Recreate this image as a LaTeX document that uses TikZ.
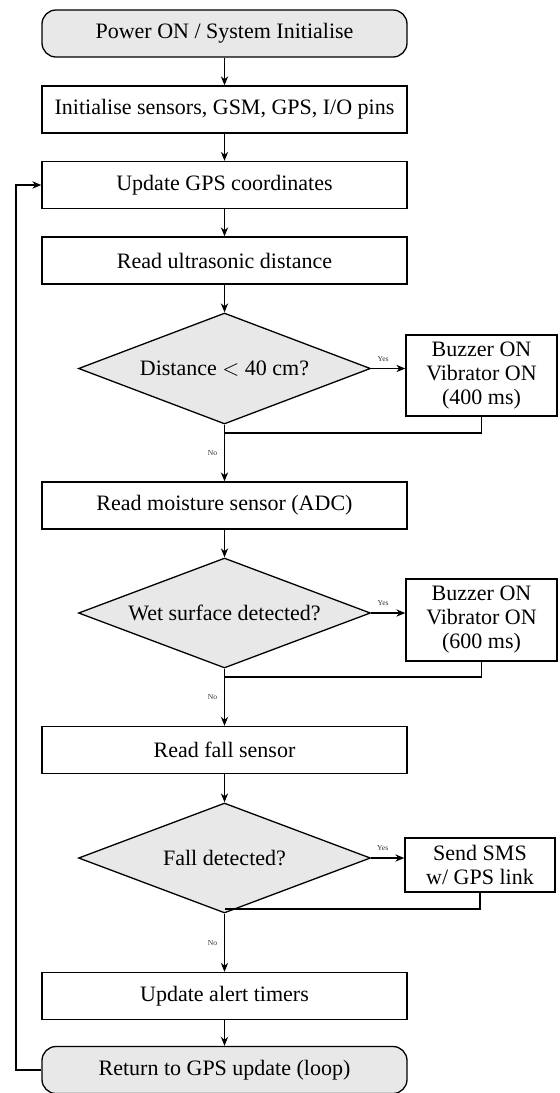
\documentclass[tikz,border=0pt]{standalone}
\usepackage{fontspec}
\setmainfont{Liberation Serif}
\usetikzlibrary{shapes.geometric,arrows.meta}
\begin{document}
\begin{tikzpicture}[x=0.5pt,y=-0.5pt,
  line width=0.65pt,
  every node/.style={font=\fontsize{11}{12}\selectfont},
  termbox/.style={draw, rounded corners=7pt, fill=gray!18, minimum width=182.5pt, minimum height=23.5pt, inner sep=0pt},
  procbox/.style={draw, rectangle, minimum width=182.5pt, minimum height=23.5pt, inner sep=0pt},
  decbox/.style={draw, diamond, shape aspect=2.63, fill=gray!18, minimum width=146pt, minimum height=55.5pt, inner sep=0pt},
  sidebox/.style={draw, rectangle, minimum width=75.5pt, align=center, inner sep=0pt},
  arr/.style={-{Stealth[length=4.5pt,width=3.6pt]}},
  lbl/.style={font=\fontsize{3.8}{4}\selectfont, text=black!80}
]
\useasboundingbox (0,0) rectangle (560,1093);

\node[termbox] (p1) at (224.5,33.5) {Power ON / System Initialise};
\node[procbox] (p2) at (224.5,109.5) {Initialise sensors, GSM, GPS, I/O pins};
\node[procbox] (p3) at (224.5,185) {Update GPS coordinates};
\node[procbox] (p4) at (224.5,260.5) {Read ultrasonic distance};
\node[decbox]  (d1) at (224.5,368.5) {Distance $<$ 40 cm?};
\node[sidebox, minimum height=40.5pt] (b1) at (481.5,375.5) {Buzzer ON\\Vibrator ON\\(400 ms)};
\node[procbox] (p5) at (224.5,505.5) {Read moisture sensor (ADC)};
\node[decbox, minimum height=55pt]  (d2) at (224.5,613) {Wet surface detected?};
\node[sidebox, minimum height=41pt] (b2) at (481.5,620) {Buzzer ON\\Vibrator ON\\(600 ms)};
\node[procbox] (p6) at (224.5,750) {Read fall sensor};
\node[decbox, minimum height=55pt]  (d3) at (224.5,858) {Fall detected?};
\node[sidebox, minimum height=27pt, minimum width=75pt] (b3) at (480,865) {Send SMS\\w/ GPS link};
\node[procbox] (p7) at (224.5,996) {Update alert timers};
\node[termbox] (p8) at (224.5,1070) {Return to GPS update (loop)};

\coordinate (m1) at (224.5,433);
\coordinate (m2) at (224.5,677);
\coordinate (m3) at (224.5,909);
\coordinate (lp) at (16,1070);

\draw[arr] (p1) -- (p2);
\draw[arr] (p2) -- (p3);
\draw[arr] (p3) -- (p4);
\draw[arr] (p4) -- (d1);
\draw[arr] (d1.east) -- node[lbl, above, pos=0.35] {Yes} (d1.east -| b1.west);
\draw (b1.south) |- (m1);
\draw[arr] (d1.south) -- node[lbl, left, pos=0.5] {No} (p5.north);
\draw[arr] (p5) -- (d2);
\draw[arr] (d2.east) -- node[lbl, above, pos=0.35] {Yes} (d2.east -| b2.west);
\draw (b2.south) |- (m2);
\draw[arr] (d2.south) -- node[lbl, left, pos=0.5] {No} (p6.north);
\draw[arr] (p6) -- (d3);
\draw[arr] (d3.east) -- node[lbl, above, pos=0.35] {Yes} (d3.east -| b3.west);
\draw (b3.south) |- (m3);
\draw[arr] (d3.south) -- node[lbl, left, pos=0.5] {No} (p7.north);
\draw[arr] (p7) -- (p8);
\draw[arr] (p8.west) -- (lp) |- (p3.west);
\end{tikzpicture}
\end{document}
